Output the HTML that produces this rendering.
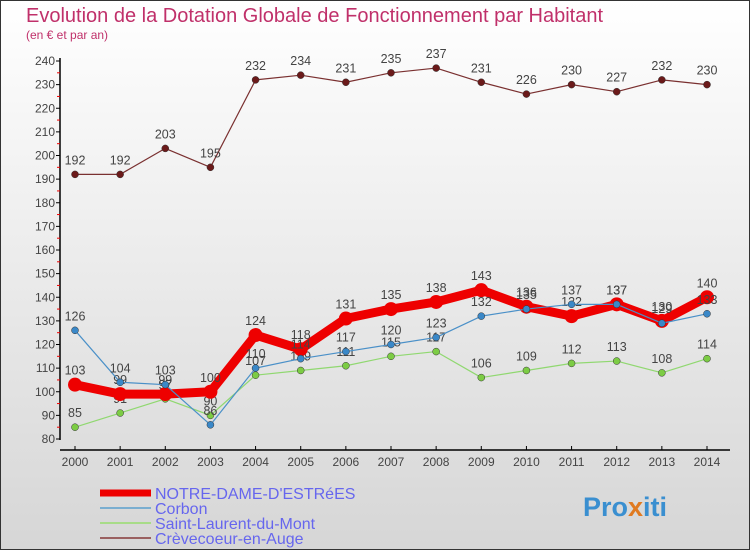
<!DOCTYPE html>
<html><head><meta charset="utf-8"><style>
body{margin:0}
svg text{font-family:"Liberation Sans","DejaVu Sans",sans-serif}
</style></head><body>
<svg id="c" width="750" height="550" viewBox="0 0 750 550" xmlns="http://www.w3.org/2000/svg">
<defs><linearGradient id="bg" x1="0" y1="0" x2="0" y2="1"><stop offset="0" stop-color="#ffffff"/><stop offset="1" stop-color="#d6d6d6"/></linearGradient></defs>
<rect x="0.5" y="0.5" width="749" height="549" fill="url(#bg)" stroke="#333"/>
<text x="26" y="22" font-size="20" fill="#c0306a">Evolution de la Dotation Globale de Fonctionnement par Habitant</text>
<text x="26" y="39" font-size="12" fill="#c0306a">(en € et par an)</text>
<g id="axes"></g><g id="series"></g><g id="legend"></g>
<text x="583" y="516" font-size="27" font-weight="bold" fill="#3a8fd0">Pro<tspan fill="#e07a20">x</tspan>iti</text>
</svg>
<script>
const years=["2000","2001","2002","2003","2004","2005","2006","2007","2008","2009","2010","2011","2012","2013","2014"];
const notreDame=[103,99,99,100,124,118,131,135,138,143,136,132,137,130,140];
const corbon=[126,104,103,86,110,114,117,120,123,132,135,137,137,129,133];
const stLaurent=[85,91,97,90,107,109,111,115,117,106,109,112,113,108,114];
const crevecoeur=[192,192,203,195,232,234,231,235,237,231,226,230,227,232,230];
const yTicks=[80,90,100,110,120,130,140,150,160,170,180,190,200,210,220,230,240];
const NS="http://www.w3.org/2000/svg";
const X=i=>75+i*(707-75)/14;
const Y=v=>439-(v-80)*(439-61)/160;
function mk(t,a,p){const e=document.createElementNS(NS,t);for(const k in a)e.setAttribute(k,a[k]);p.appendChild(e);return e;}
const ax=document.getElementById('axes');
let e=mk('line',{x1:60,y1:58,x2:60,y2:440,stroke:'#000','stroke-width':1.5},ax);

e=mk('line',{x1:60,y1:450,x2:730,y2:450,stroke:'#000','stroke-width':1.5},ax);

yTicks.forEach(v=>{mk('line',{x1:56,y1:Y(v),x2:60,y2:Y(v),stroke:'#000'},ax);
 if(v<240)mk('line',{x1:57,y1:Y(v+5),x2:60,y2:Y(v+5),stroke:'#e00'},ax);
 const t=mk('text',{x:55,y:Y(v)+4,'font-size':12,'text-anchor':'end',fill:'#444'},ax);t.textContent=v;
 });
years.forEach((y,i)=>{mk('line',{x1:X(i),y1:446,x2:X(i),y2:450,stroke:'#000'},ax);
 const t=mk('text',{x:X(i),y:466,'font-size':12,'text-anchor':'middle',fill:'#444'},ax);t.textContent=y;
 });
const sg=document.getElementById('series');
const defs=[
 {d:crevecoeur,c:'#7a3030',w:1.2,r:3.5,n:'crevecoeur',f:'#6b1a1a'},
 {d:stLaurent,c:'#90d870',w:1.2,r:3.5,n:'saint-laurent',f:'#7ccc44'},
 {d:notreDame,c:'#ee0000',w:9,r:7,n:'notre-dame',f:'#ee0000'},
 {d:corbon,c:'#4a90c8',w:1.2,r:3.5,n:'corbon',f:'#3a88c8'}];
defs.forEach(s=>{const g=mk('g',{},sg);
 
 const l=mk('polyline',{points:s.d.map((v,i)=>X(i)+','+Y(v)).join(' '),fill:'none',stroke:s.c,'stroke-width':s.w,'stroke-linejoin':'round'},g);
 
 s.d.forEach((v,i)=>{const p=mk('circle',{cx:X(i),cy:Y(v),r:s.r,fill:s.f,stroke:s.r>5?'none':'#333','stroke-width':0.5},g);
  
  const t=mk('text',{x:X(i),y:Y(v)-10,'font-size':12.5,'text-anchor':'middle',fill:'#444'},g);t.textContent=v;
  });
});
const lg=document.getElementById('legend');
[['NOTRE-DAME-D\'ESTRéES','#ee0000',7],['Corbon','#7aaed0',2],['Saint-Laurent-du-Mont','#a8dc88',2],['Crèvecoeur-en-Auge','#9a6060',2]].forEach((it,i)=>{
 const y=493+i*15;const g=mk('g',{},lg);
 
 mk('line',{x1:100,y1:y,x2:151,y2:y,stroke:it[1],'stroke-width':it[2]},g);
 const t=mk('text',{x:155,y:y+6,'font-size':16,fill:'#6666ee'},g);t.textContent=it[0];});
</script>
</body></html>
